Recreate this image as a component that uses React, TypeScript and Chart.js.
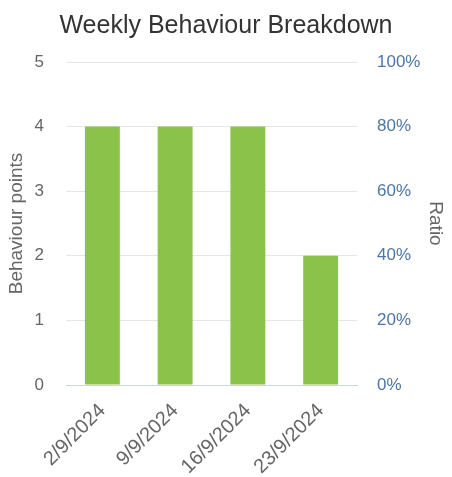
import React, { useEffect, useRef } from "react";
import { Chart, registerables } from "chart.js";

Chart.register(...registerables);

const categories = ["2/9/2024", "9/9/2024", "16/9/2024", "23/9/2024"];
const behaviourPoints = [4, 4, 4, 2];
const leftTicks = [0, 1, 2, 3, 4, 5];
const rightTicks = [0, 20, 40, 60, 80, 100];

const FONT = "'Liberation Sans', Arial, sans-serif";

export default function App() {
  const ref = useRef<HTMLCanvasElement | null>(null);

  useEffect(() => {
    if (!ref.current) return;
    const chart = new Chart(ref.current, {
      type: "bar",
      data: {
        labels: categories,
        datasets: [
          {
            label: "Behaviour points",
            data: behaviourPoints,
            backgroundColor: "#8bc34a",
            borderWidth: 0,
            barPercentage: 0.6,
            categoryPercentage: 0.8,
            yAxisID: "y",
          },
        ],
      },
      options: {
        responsive: false,
        animation: false,
        devicePixelRatio: 1,
        layout: { padding: { left: 0, right: 0, top: 0, bottom: 0 } },
        plugins: {
          legend: { display: false },
          tooltip: { enabled: false },
          title: {
            display: true,
            text: "Weekly Behaviour Breakdown",
            color: "#333333",
            font: { family: FONT, size: 25, weight: "normal" },
            padding: { top: 11, bottom: 21 },
          },
        },
        scales: {
          x: {
            grid: { display: false },
            border: { display: true, color: "#ccd6eb", width: 1 },
            ticks: {
              color: "#666666",
              font: { family: FONT, size: 20 },
              minRotation: 45,
              maxRotation: 45,
              padding: 6,
            },
            afterFit: (s: any) => {
              s.height = 92;
            },
          },
          y: {
            position: "left",
            min: 0,
            max: 5,
            afterBuildTicks: (s: any) => {
              s.ticks = leftTicks.map((v) => ({ value: v }));
            },
            grid: {
              color: (c: any) => (c.tick && c.tick.value === 0 ? "#ccd6eb" : "#e6e6e6"),
              drawTicks: false,
            },
            border: { display: false },
            ticks: {
              color: "#666666",
              font: { family: FONT, size: 17 },
              padding: 22,
            },
            title: {
              display: true,
              text: "Behaviour points",
              color: "#666666",
              font: { family: FONT, size: 19 },
              padding: { top: 5, bottom: 0 },
            },
            afterFit: (s: any) => {
              s.width = 66;
            },
          },
          y1: {
            position: "right",
            display: true,
            min: 0,
            max: 100,
            afterBuildTicks: (s: any) => {
              s.ticks = rightTicks.map((v) => ({ value: v }));
            },
            grid: { drawOnChartArea: false, drawTicks: false },
            border: { display: false },
            ticks: {
              color: "#4d75a8",
              font: { family: FONT, size: 17 },
              padding: 20,
              callback: (v: any) => v + "%",
            },
            title: {
              display: true,
              text: "Ratio",
              color: "#666666",
              font: { family: FONT, size: 19 },
              padding: { top: 5, bottom: 0 },
            },
            afterFit: (s: any) => {
              s.width = 95;
            },
          },
        },
      },
    });
    return () => chart.destroy();
  }, []);

  return (
    <div style={{ position: "absolute", left: 0, top: 0, width: 452, height: 477, background: "#fff" }}>
      <canvas ref={ref} width={452} height={477} style={{ display: "block" }} />
    </div>
  );
}
